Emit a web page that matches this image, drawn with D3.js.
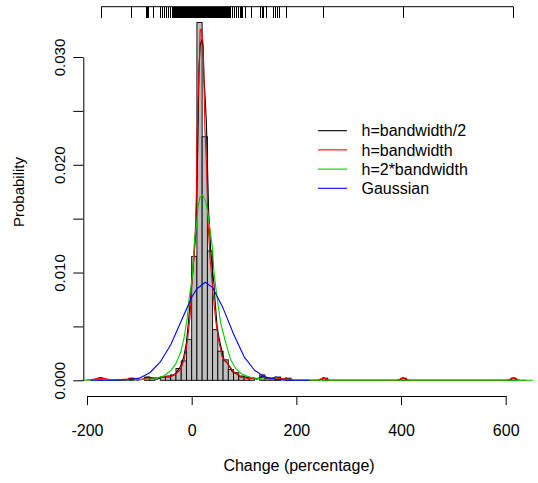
<!DOCTYPE html>
<html>
<head>
<meta charset="utf-8">
<script src="https://cdn.jsdelivr.net/npm/d3@7"></script>
<style>
  body { margin: 0; background: #fff; }
  text { font-family: "Liberation Sans", Arial, sans-serif; fill: #000; }
</style>
</head>
<body>
<svg id="chart"></svg>
<script>
// tick values
var xTicks = [-200, 0, 200, 400, 600];
var yTicks = [0, 0.005, 0.01, 0.015, 0.02, 0.025, 0.03];
var yLabeled = [0, 0.01, 0.02, 0.03];

// histogram, bins of width 10 (start of bin, density)
var binStart = [-180, -120, -90, -80, -60, -50, -40, -30, -20, -10,
  0, 10, 20, 30, 40, 50, 60, 70, 80, 90,
  100, 110, 130, 140, 150, 160, 180, 250, 400, 610];
var binDensity = [0.0002, 0.0002, 0.0003, 0.0002, 0.0003, 0.0003, 0.0005, 0.0011, 0.0018, 0.0038,
  0.0115, 0.0332, 0.0226, 0.012, 0.0047, 0.0027, 0.0019, 0.001, 0.0007, 0.0004,
  0.0003, 0.0002, 0.0005, 0.0002, 0.0002, 0.0003, 0.0002, 0.0002, 0.0002, 0.0002];

// density estimates: [change, density]
var halfBw = [[-190, 0], [-173, 0.00025], [-160, 0], [-125, 0], [-115, 0.0002], [-105, 0], [-92, 0.0001],
  [-84, 0.0003], [-74, 0.0002], [-66, 0.0001], [-56, 0.0003], [-46, 0.0004], [-38, 0.0004], [-31, 0.0006],
  [-21, 0.0013], [-15, 0.0022], [-10, 0.0035], [-6, 0.0055], [-2, 0.0078], [1, 0.0095], [4.4, 0.0115],
  [7.6, 0.0135], [10.5, 0.019], [12.4, 0.024], [14, 0.029], [16.2, 0.031], [19.1, 0.0316], [22, 0.031],
  [23.5, 0.028], [25.4, 0.0265], [28.1, 0.024], [29.6, 0.021], [32.5, 0.0155], [34.4, 0.014], [36.3, 0.0121],
  [40.1, 0.01], [42.6, 0.009], [44.5, 0.0075], [49.1, 0.0047], [54.1, 0.0035], [61.7, 0.0019], [68.2, 0.0016],
  [77.8, 0.0008], [86, 0.0006], [93.6, 0.0003], [100, 0.0003], [110, 0.0002], [117, 0.0002], [125, 0.0001],
  [135, 0.0004], [143, 0.0002], [150, 0.0001], [160, 0.0003], [168, 0.0002], [175, 0.0001], [181, 0.0002],
  [188, 0], [244, 0], [252, 0.00025], [260, 0], [396, 0], [404, 0.00025], [412, 0], [607, 0], [615, 0.00025], [623, 0]];

var oneBw = [[-200, 0], [-173, 0.0002], [-150, 0.00002], [-115, 0.00015], [-100, 0.00005], [-84, 0.00022],
  [-72, 0.0002], [-57, 0.00028], [-46, 0.00035], [-38, 0.0004], [-30, 0.0006], [-21, 0.001], [-14, 0.002],
  [-8, 0.0037], [-3, 0.006], [0, 0.0087], [4.4, 0.0114], [7.5, 0.0145], [9, 0.0172], [9.6, 0.0217],
  [11.5, 0.025], [14.3, 0.029], [16.2, 0.0325], [17.8, 0.0326], [19.1, 0.0323], [21.6, 0.0313], [23.5, 0.0276],
  [25.4, 0.0232], [28, 0.0204], [30, 0.0172], [31.5, 0.0144], [35, 0.0114], [42, 0.0075], [46, 0.0055],
  [51.6, 0.0037], [58, 0.0022], [68, 0.0016], [74, 0.0012], [80, 0.0008], [88, 0.0006], [94, 0.0003],
  [105, 0.0002], [118, 0.00018], [130, 0.0002], [138, 0.0003], [150, 0.00015], [162, 0.00025], [175, 0.0001],
  [182, 0.00015], [195, 0], [240, 0], [252, 0.0002], [264, 0], [392, 0], [404, 0.0002], [416, 0],
  [603, 0], [615, 0.0002], [627, 0], [640, 0]];

var twoBw = [[-209, 0], [-175, 0.00006], [-140, 0.00004], [-110, 0.00006], [-91, 0.0001], [-72, 0.00015],
  [-53, 0.0004], [-40, 0.0009], [-30.6, 0.0015], [-21, 0.0026], [-14.7, 0.0039], [-8.2, 0.0059], [-5.2, 0.0075],
  [1.3, 0.0096], [4.4, 0.0123], [6.3, 0.0135], [9.6, 0.0145], [12, 0.016], [15.9, 0.017], [21, 0.0172],
  [26.7, 0.0166], [30, 0.0158], [33, 0.0147], [36.3, 0.0135], [39.5, 0.0124], [42.6, 0.01], [49, 0.0075],
  [55.4, 0.0053], [65, 0.0035], [74.5, 0.0019], [84, 0.0011], [95, 0.0006], [110, 0.0003], [120, 0.0002],
  [140, 0.0001], [160, 0.0001], [180, 0.00005], [200, 0], [653, 0]];

var gaussian = [[-193, 0], [-150, 0.00001], [-120, 0.00005], [-100, 0.0002], [-80, 0.0007], [-60, 0.0017],
  [-40, 0.0033], [-20, 0.0055], [0, 0.0077], [10, 0.0085], [26, 0.0091], [40, 0.0086], [60, 0.0067],
  [80, 0.0043], [100, 0.0022], [120, 0.00093], [140, 0.00032], [160, 0.00009], [180, 0.00002], [225, 0]];

// rug of the observations along the top
var rugValues = [-173, -115, -86, -84, -82, -73, -59, -55, -52, -48, -45, -40, -37,
  -34, -33, -32, -31, -30, -29, -28, -27, -26, -25, -24, -23, -22, -21, -20, -19, -18, -17, -16, -15,
  -14, -13, -12, -11, -10, -9, -8, -7, -6, -5, -4, -3, -2, -1, 0, 1, 2, 3, 4, 5, 6, 7, 8, 9, 10,
  11, 12, 13, 14, 15, 16, 17, 18, 19, 20, 21, 22, 23, 24, 25, 26, 27, 28, 29, 30, 31, 32, 33, 34, 35,
  36, 37, 38, 39, 40, 41, 42, 43, 44, 45, 46, 47, 48, 49, 50, 51, 52, 53, 54, 55, 56, 57, 58, 59, 60,
  61, 62, 63, 64, 65, 66, 67, 68, 69, 70, 71, 72, 73, 74, 75,
  78, 82, 86, 90, 94, 96, 98, 103, 115, 132, 135, 138, 143, 157, 160, 164, 167, 181, 252, 404, 615];

var legendLabels = ["h=bandwidth/2", "h=bandwidth", "h=2*bandwidth", "Gaussian"];
var legendColors = ["#000000", "#ff0000", "#00cd00", "#0000ff"];

var svgWidth = 538, svgHeight = 483;
var svg = d3.select("#chart")
    .attr("width", svgWidth)
    .attr("height", svgHeight);

svg.append("rect").attr("width", svgWidth).attr("height", svgHeight).attr("fill", "#fff");

var x = d3.scaleLinear().domain([-200, 600]).range([87, 505.7]);
var y = d3.scaleLinear().domain([0, 0.03]).range([380.3, 57]);

var axisLeftX = 83.3, axisBottomY = 396, rugY = 6.7;

// histogram bars
svg.append("g")
  .selectAll("rect")
  .data(binStart)
  .enter().append("rect")
    .attr("x", function(d) { return x(d); })
    .attr("y", function(d, i) { return y(binDensity[i]); })
    .attr("width", function(d) { return x(d + 10) - x(d); })
    .attr("height", function(d, i) { return y(0) - y(binDensity[i]); })
    .attr("fill", "#bebebe")
    .attr("stroke", "#000")
    .attr("stroke-width", 0.9);

var line = d3.line()
    .x(function(d) { return x(d[0]); })
    .y(function(d) { return y(d[1]); });

[halfBw, oneBw, twoBw, gaussian].forEach(function(series, i) {
  svg.append("path")
    .datum(series)
    .attr("fill", "none")
    .attr("stroke", legendColors[i])
    .attr("stroke-width", 1.1)
    .attr("stroke-linejoin", "round")
    .attr("d", line);
});

// x axis (plain hyphen for negatives, like R)
var xAxis = svg.append("g")
    .attr("transform", "translate(0," + axisBottomY + ")")
    .call(d3.axisBottom(x).tickValues(xTicks).tickSize(9).tickSizeOuter(0)
      .tickFormat(function(d) { return String(d); }));
xAxis.selectAll("text")
    .attr("y", 40).attr("dy", 0)
    .style("font-size", "16px");

// y axis
var yAxis = svg.append("g")
    .attr("transform", "translate(" + axisLeftX + ",0)")
    .call(d3.axisLeft(y).tickValues(yTicks).tickSize(10).tickSizeOuter(0)
      .tickFormat(function(d) { return yLabeled.indexOf(d) >= 0 ? d3.format(".3f")(d) : ""; }));
yAxis.selectAll("text")
    .attr("transform", "rotate(-90)")
    .attr("x", 0).attr("y", -18).attr("dy", 0)
    .attr("text-anchor", "middle")
    .style("font-size", "15px");

svg.selectAll(".domain, .tick line").attr("stroke", "#000");
svg.selectAll(".tick text").attr("fill", "#000").style("font-family", "'Liberation Sans', Arial, sans-serif");

// rug along the top
svg.append("line")
    .attr("x1", x(d3.min(rugValues))).attr("x2", x(d3.max(rugValues)))
    .attr("y1", rugY).attr("y2", rugY)
    .attr("stroke", "#000");
svg.append("g")
    .attr("shape-rendering", "crispEdges")
  .selectAll("line")
  .data(rugValues)
  .enter().append("line")
    .attr("x1", function(d) { return x(d); })
    .attr("x2", function(d) { return x(d); })
    .attr("y1", rugY).attr("y2", rugY + 11)
    .attr("stroke", "#000")
    .attr("stroke-width", 1);

// axis titles
svg.append("text")
    .attr("x", 299).attr("y", 471)
    .attr("text-anchor", "middle")
    .style("font-size", "16px")
    .text("Change (percentage)");
svg.append("text")
    .attr("transform", "translate(24,192) rotate(-90)")
    .attr("text-anchor", "middle")
    .style("font-size", "15px")
    .text("Probability");

// legend
var legend = svg.append("g");
legendLabels.forEach(function(lab, i) {
  var ly = 130.7 + i * 19.2;
  legend.append("line")
    .attr("x1", 318).attr("x2", 347)
    .attr("y1", ly).attr("y2", ly)
    .attr("stroke", legendColors[i])
    .attr("stroke-width", 1.1);
  legend.append("text")
    .attr("x", 361.5).attr("y", ly)
    .attr("dy", "0.35em")
    .style("font-size", "16px")
    .text(lab);
});
</script>
</body>
</html>
